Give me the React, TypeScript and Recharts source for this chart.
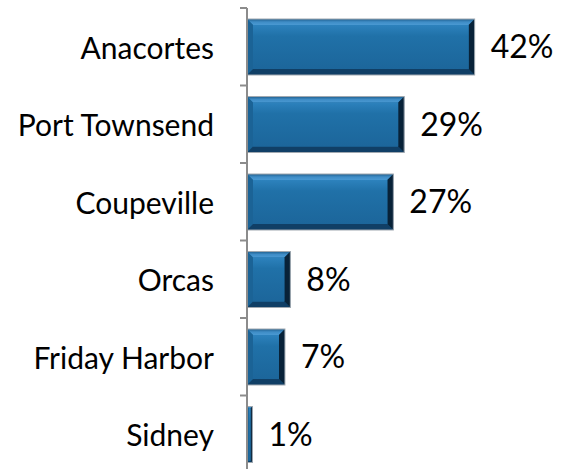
import { BarChart, Bar, XAxis, YAxis, LabelList } from 'recharts';

// share of respondents by ferry terminal
const categories = ['Anacortes', 'Port Townsend', 'Coupeville', 'Orcas', 'Friday Harbor', 'Sidney'];
const percents = [42, 29, 27, 8, 7, 1];

const data = categories.map((name, i) => ({ name, value: percents[i] }));

const WIDTH = 561;
const HEIGHT = 480;
const MARGIN = { top: 8, right: 43, bottom: 7, left: 0 };
const AXIS_X = 247;
const BAND = (HEIGHT - MARGIN.top - MARGIN.bottom) / categories.length;
const FONT = 'Lato, "Open Sans", sans-serif';

// category label plus an Excel-style tick mark between categories
function CategoryTick(props: any) {
  const { y, payload, index } = props;
  const top = y - BAND / 2;
  return (
    <g>
      <line x1={AXIS_X - 7} x2={AXIS_X} y1={top} y2={top} stroke="#8c8c8c" strokeWidth={2} />
      {index === categories.length - 1 && (
        <line x1={AXIS_X - 7} x2={AXIS_X} y1={top + BAND} y2={top + BAND} stroke="#8c8c8c" strokeWidth={2} />
      )}
      <text
        x={AXIS_X - 33}
        y={y}
        textAnchor="end"
        dominantBaseline="central"
        fontFamily={FONT}
        fontSize={30}
        fill="#000"
      >
        {payload.value}
      </text>
    </g>
  );
}

// bevelled bar like the Office "bevel" shape effect
function BevelBar(props: any) {
  const { x, y, width, height } = props;
  if (!width || width <= 0) return null;
  const b = Math.max(1, Math.min(6, width / 3, height / 4));
  const x2 = x + width;
  const y2 = y + height;
  return (
    <g>
      <rect x={x} y={y} width={width} height={height} fill="#1d6a9f" />
      {/* top */}
      <polygon points={`${x},${y} ${x2},${y} ${x2 - b},${y + b} ${x + b},${y + b}`} fill="url(#topBevel)" />
      {/* left */}
      <polygon points={`${x},${y} ${x + b},${y + b} ${x + b},${y2 - b} ${x},${y2}`} fill="#1b6396" />
      {/* bottom */}
      <polygon points={`${x},${y2} ${x + b},${y2 - b} ${x2 - b},${y2 - b} ${x2},${y2}`} fill="#103f66" />
      {/* right */}
      <polygon points={`${x2},${y} ${x2},${y2} ${x2 - b},${y2 - b} ${x2 - b},${y + b}`} fill="#082238" />
      <rect x={x + b} y={y + b} width={Math.max(0, width - 2 * b)} height={Math.max(0, height - 2 * b)} fill="url(#face)" />
      <rect x={x} y={y} width={width} height={height} fill="none" stroke="#a0a8b0" strokeWidth={1} />
    </g>
  );
}

export default function App() {
  return (
    <div style={{ position: 'absolute', left: 0, top: 0, width: WIDTH, height: 469, overflow: 'hidden', background: '#fff' }}>
      <BarChart width={WIDTH} height={HEIGHT} data={data} layout="vertical" margin={MARGIN} barSize={56}>
        <defs>
          <linearGradient id="face" x1="0" y1="0" x2="0" y2="1">
            <stop offset="0%" stopColor="#2d82bd" />
            <stop offset="25%" stopColor="#2071a8" />
            <stop offset="100%" stopColor="#1c669b" />
          </linearGradient>
          <linearGradient id="topBevel" x1="0" y1="0" x2="0" y2="1">
            <stop offset="0%" stopColor="#1f5f8e" />
            <stop offset="50%" stopColor="#3f8dc7" />
            <stop offset="100%" stopColor="#4a99d2" />
          </linearGradient>
        </defs>
        <XAxis type="number" domain={[0, 50]} hide />
        <YAxis
          type="category"
          dataKey="name"
          width={AXIS_X}
          axisLine={{ stroke: '#8c8c8c', strokeWidth: 2 }}
          tickLine={false}
          tick={<CategoryTick />}
          interval={0}
        />
        <Bar dataKey="value" shape={<BevelBar />} isAnimationActive={false}>
          <LabelList
            dataKey="value"
            position="right"
            offset={16}
            formatter={(v: any) => `${v}%`}
            style={{ fontFamily: FONT, fontSize: 32, fill: '#000' }}
          />
        </Bar>
      </BarChart>
    </div>
  );
}
